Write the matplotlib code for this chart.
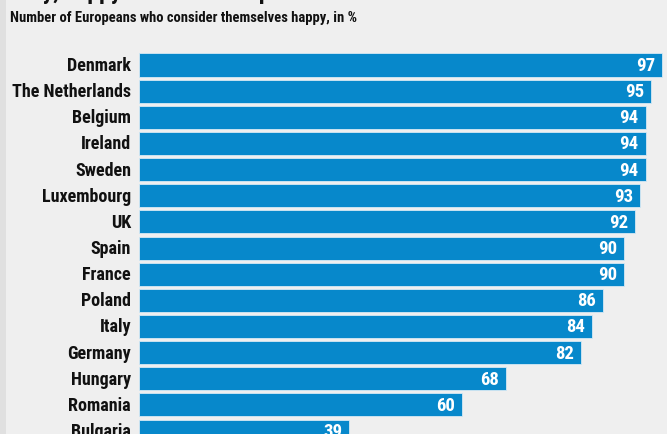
import matplotlib.pyplot as plt
from matplotlib.patches import Rectangle

countries = ["Denmark", "The Netherlands", "Belgium", "Ireland", "Sweden",
             "Luxembourg", "UK", "Spain", "France", "Poland", "Italy",
             "Germany", "Hungary", "Romania", "Bulgaria"]
happy_pct = [97, 95, 94, 94, 94, 93, 92, 90, 90, 86, 84, 82, 68, 60, 39]

W, H = 667, 435
BAR = "#0788cb"
BG = "#efefef"
FONT = ["Roboto Condensed", "Lato", "DejaVu Sans"]

fig = plt.figure(figsize=(W / 100, H / 100), dpi=100, facecolor=BG)

# grey strip down the left edge
fig.patches.append(Rectangle((0, 0), 6 / W, 1, transform=fig.transFigure,
                             facecolor="#e0e0e0", edgecolor="none", zorder=0))

# bars start at x=139px, ~5.39px per percent, rows 26.15px apart from y=66px
left = 139
px_per_unit = 5.39
row = 26.15
first = 66
ax = fig.add_axes([left / W, 0, (W - left) / W, 1])
ax.set_xlim(0, (W - left) / px_per_unit)
ax.set_ylim((H - first) / row, -first / row)
ax.axis("off")

ypos = list(range(len(countries)))
ax.barh(ypos, happy_pct, height=0.88, color=BAR, edgecolor="#d6e9f5",
        linewidth=0.6)

for y, v, name in zip(ypos, happy_pct, countries):
    ax.text(v - 1.3, y, str(v), color="white", fontsize=13.5, fontweight="bold",
            family=FONT, ha="right", va="center")
    ax.text(-1.5, y, name, color="#111111", fontsize=13, fontweight="bold",
            family=FONT, ha="right", va="center", clip_on=False)

fig.text(10 / W, 1 - 22 / H, "Number of Europeans who consider themselves happy, in %",
         fontsize=10.5, fontweight="bold", family=FONT, color="#111111",
         ha="left", va="baseline")
# headline sits mostly above the top edge
fig.text(10 / W, 1 + 1 / H, "Very, happy Northern Europe", fontsize=17,
         fontweight="bold", family=FONT, color="#111111", ha="left",
         va="baseline")

fig.savefig("out.png", dpi=100, facecolor=BG)
